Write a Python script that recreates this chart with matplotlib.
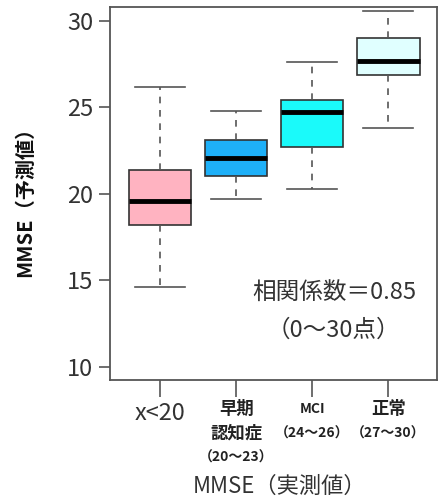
import matplotlib
matplotlib.use('Agg')
import matplotlib.pyplot as plt

plt.rcParams['font.family'] = ['Noto Sans CJK JP', 'DejaVu Sans']

# values
groups = ['x<20', '早期\n認知症\n（20～23）', 'MCI\n（24～26）', '正常\n（27～30）']
whislo = [14.6, 19.7, 20.3, 23.8]
q1 = [18.2, 21.05, 22.7, 26.9]
med = [19.6, 22.05, 24.75, 27.7]
q3 = [21.4, 23.1, 25.4, 29.0]
whishi = [26.15, 24.8, 27.6, 30.55]
colors = ['#FFB3C1', '#1EB0F8', '#1AFAFA', '#E0FFFF']

stats = []
for i in range(len(groups)):
    stats.append({'whislo': whislo[i], 'q1': q1[i], 'med': med[i],
                  'q3': q3[i], 'whishi': whishi[i], 'label': groups[i]})

fig = plt.figure(figsize=(4.4, 5.01), dpi=100)
ax = fig.add_axes([110 / 440, 1 - 380 / 501, 327 / 440, 373 / 501])

bp = ax.bxp(stats, positions=[1, 2, 3, 4], widths=0.82, patch_artist=True,
            showfliers=False,
            boxprops=dict(edgecolor='#333333', linewidth=1.2),
            medianprops=dict(color='black', linewidth=3.5),
            whiskerprops=dict(color='#555555', linestyle=(0, (4, 4)), linewidth=1.2),
            capprops=dict(color='#555555', linewidth=1.2))
for patch, c in zip(bp['boxes'], colors):
    patch.set_facecolor(c)
for cap in bp['caps']:
    x0, x1 = cap.get_xdata()
    m = (x0 + x1) / 2
    cap.set_xdata([m - 0.33, m + 0.33])

ax.set_xlim(0.34, 4.64)
ax.set_ylim(9.25, 30.8)
ax.set_yticks([10, 15, 20, 25, 30])
ax.tick_params(axis='y', labelsize=17, labelcolor='#333333', color='#555555',
               length=8, width=1.2, pad=4)
ax.set_xticks([1, 2, 3, 4])
ax.set_xticklabels([])
ax.tick_params(axis='x', length=12, width=1.2, colors='#555555')
for s in ax.spines.values():
    s.set_color('#555555')
    s.set_linewidth(1.3)

# x labels
xt = ax.get_xaxis_transform()
ax.text(1, -0.06, groups[0], transform=xt,
        ha='center', va='top', fontsize=17, color='#333333')
for i in range(1, 4):
    for j, line in enumerate(groups[i].split('\n')):
        small = line.startswith('（') or line == 'MCI'
        ax.annotate(line, (i + 1, 0), xycoords=xt,
                    xytext=(0, -21 - 17.3 * j), textcoords='offset points',
                    ha='center', va='center', fontsize=10 if small else 12.5,
                    fontweight='bold', color='#222222')

fig.text(280 / 440, 1 - 486 / 501, 'MMSE（実測値）', ha='center', va='center',
         fontsize=16, color='#333333')
fig.text(25 / 440, 1 - 197 / 501, 'MMSE（予測値）', ha='center', va='center',
         rotation=90, fontsize=14.5, fontweight='bold', color='#111111')

fig.text(334 / 440, 1 - 293 / 501, '相関係数＝0.85', ha='center', va='center',
         fontsize=17, color='#333333')
fig.text(333 / 440, 1 - 330 / 501, '（0～30点）', ha='center', va='center',
         fontsize=17, color='#333333')

fig.savefig('out.png', dpi=100)
